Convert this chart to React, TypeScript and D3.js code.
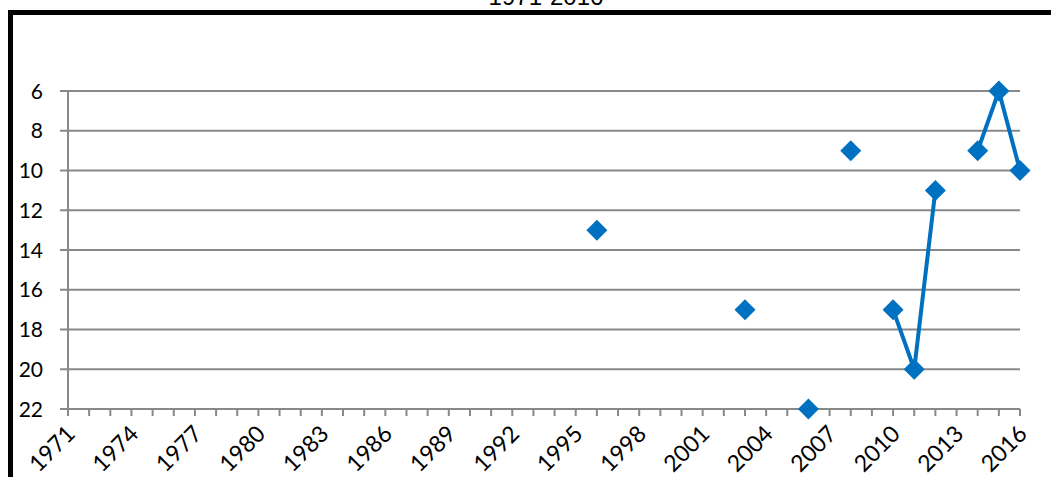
import React from "react";
import * as d3 from "d3";

// Ranking by year (lower = better); years without a value are left empty
const title = "1971-2016";
const years = [1996, 2003, 2006, 2008, 2010, 2011, 2012, 2014, 2015, 2016];
const ranks = [13, 17, 22, 9, 17, 20, 11, 9, 6, 10];
const yTicks = [6, 8, 10, 12, 14, 16, 18, 20, 22];
const firstYear = 1971;
const lastYear = 2016;
const labelStep = 3;

const W = 1051;
const H = 477;
const left = 68;
const right = 1020;
const top = 91;
const bottom = 409;
const blue = "#0070C0";
const grid = "#888888";
const font = "Lato, 'Open Sans', sans-serif";

export default function App() {
  const allYears = d3.range(firstYear, lastYear + 1);
  const x = d3.scaleLinear().domain([firstYear, lastYear]).range([left, right]);
  const y = d3.scaleLinear().domain([6, 22]).range([top, bottom]);

  const byYear = new Map(years.map((yr, i) => [yr, ranks[i]]));
  const series = allYears.map((yr) => ({ year: yr, rank: byYear.get(yr) }));

  const line = d3
    .line<{ year: number; rank: number | undefined }>()
    .defined((d) => d.rank !== undefined)
    .x((d) => x(d.year))
    .y((d) => y(d.rank as number));

  const labelYears = allYears.filter((yr) => (yr - firstYear) % labelStep === 0);
  const dm = 10.5;

  return (
    <svg width={W} height={H} style={{ display: "block", position: "absolute", left: 0, top: 0 }}>
      <rect x={0} y={0} width={W} height={H} fill="#ffffff" />
      {/* frame */}
      <path d={`M10.5,${H + 20} V12.5 H${W + 20}`} fill="none" stroke="#000" strokeWidth={5} />
      <text x={546} y={5} textAnchor="middle" fontFamily="Arial, 'Liberation Sans', sans-serif" fontSize={24} fill="#000">
        {title}
      </text>

      {/* horizontal gridlines with outer ticks */}
      {yTicks.map((t) => (
        <g key={t}>
          <line x1={left - 8} x2={right} y1={y(t)} y2={y(t)} stroke={grid} strokeWidth={2} />
          <text x={43} y={y(t)} dy="0.36em" textAnchor="end" fontFamily={font} fontSize={21} fill="#000">
            {t}
          </text>
        </g>
      ))}
      {/* vertical axis */}
      <line x1={left} x2={left} y1={top} y2={bottom} stroke={grid} strokeWidth={2} />
      {/* year ticks */}
      {allYears.map((yr) => (
        <line key={yr} x1={x(yr)} x2={x(yr)} y1={bottom} y2={bottom + 7} stroke={grid} strokeWidth={2} />
      ))}
      {labelYears.map((yr) => (
        <text
          key={yr}
          transform={`translate(${x(yr) - 3},${bottom + 15}) rotate(-45)`}
          textAnchor="end"
          dy="0.7em"
          fontFamily={font}
          fontSize={23}
          fill="#000"
        >
          {yr}
        </text>
      ))}

      {/* series */}
      <path d={line(series) ?? ""} fill="none" stroke={blue} strokeWidth={4} strokeLinejoin="round" />
      {years.map((yr, i) => {
        const cx = x(yr);
        const cy = y(ranks[i]);
        return (
          <path
            key={yr}
            d={`M${cx},${cy - dm} L${cx + dm},${cy} L${cx},${cy + dm} L${cx - dm},${cy} Z`}
            fill={blue}
          />
        );
      })}
    </svg>
  );
}
